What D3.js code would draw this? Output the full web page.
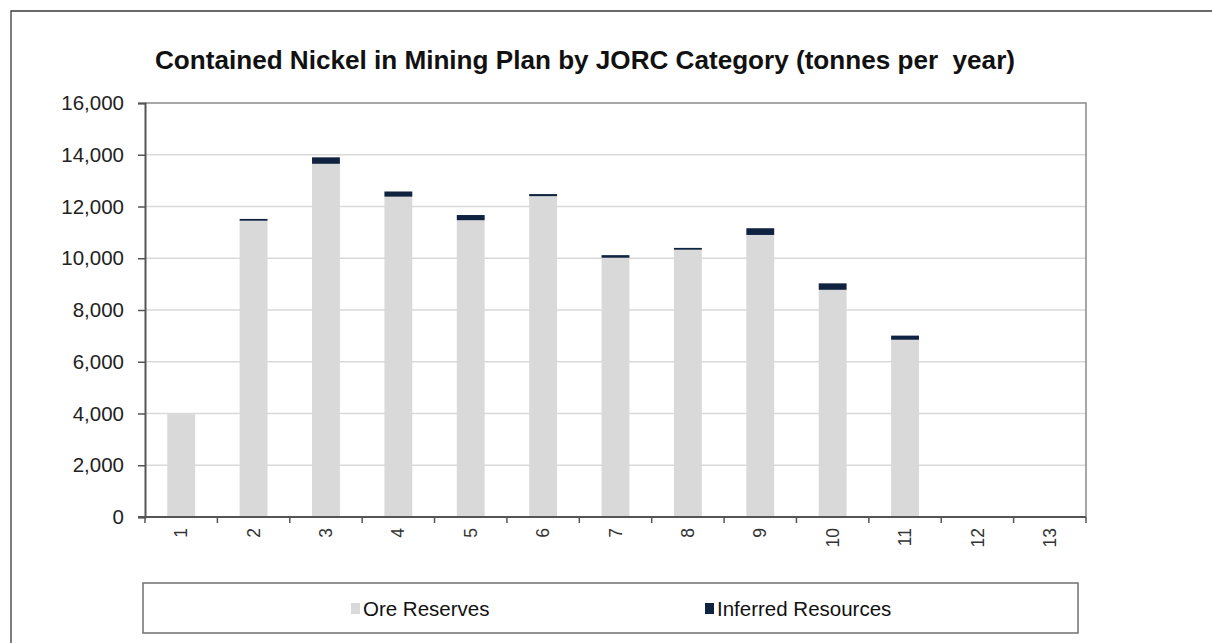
<!DOCTYPE html>
<html>
<head>
<meta charset="utf-8">
<script src="https://cdn.jsdelivr.net/npm/d3@7"></script>
<style>
  html, body { margin: 0; padding: 0; background: #fff; }
  svg { display: block; font-family: "Liberation Sans", Arial, sans-serif; }
</style>
</head>
<body>
<svg id="chart" width="1212" height="643"></svg>
<script>
// Mining plan years and contained nickel (tonnes) per JORC category
const years = ["1", "2", "3", "4", "5", "6", "7", "8", "9", "10", "11", "12", "13"];
const oreReserves = [4000, 11450, 13650, 12380, 11470, 12400, 10020, 10330, 10900, 8780, 6850, 0, 0];
const inferredResources = [0, 70, 250, 200, 200, 80, 100, 70, 260, 250, 160, 0, 0];
const yTicks = [0, 2000, 4000, 6000, 8000, 10000, 12000, 14000, 16000];
const seriesNames = ["Ore Reserves", "Inferred Resources"];
const seriesColors = ["#d9d9d9", "#0f2341"];

const svg = d3.select("#chart");

// outer frame (left and top edges)
svg.append("path")
  .attr("d", "M11,660 V11 H1212")
  .attr("fill", "none")
  .attr("stroke", "#3a3a3a")
  .attr("stroke-width", 1.3);

// title
svg.append("text")
  .attr("x", 585).attr("y", 69)
  .attr("text-anchor", "middle")
  .attr("font-size", 26)
  .attr("font-weight", "bold")
  .attr("fill", "#111")
  .style("white-space", "pre")
  .attr("textLength", 860)
  .attr("lengthAdjust", "spacingAndGlyphs")
  .text("Contained Nickel in Mining Plan by JORC Category (tonnes per  year)");

const plot = { left: 145, right: 1086, top: 103, bottom: 517 };

const x = d3.scaleBand()
  .domain(years)
  .range([plot.left, plot.right])
  .paddingInner(0.615)
  .paddingOuter(0.3075);

const y = d3.scaleLinear()
  .domain([0, 16000])
  .range([plot.bottom, plot.top]);

// horizontal gridlines
svg.append("g")
  .selectAll("line")
  .data(yTicks.filter(d => d > 0 && d < 16000))
  .join("line")
  .attr("x1", plot.left).attr("x2", plot.right)
  .attr("y1", d => y(d)).attr("y2", d => y(d))
  .attr("stroke", "#d9d9d9")
  .attr("stroke-width", 1.5);

// plot area border (top and right)
svg.append("path")
  .attr("d", `M${plot.left},${plot.top} H${plot.right} V${plot.bottom}`)
  .attr("fill", "none")
  .attr("stroke", "#8a8a8a")
  .attr("stroke-width", 1.5);

// stacked bars
const stackData = years.map((yr, i) => ({ year: yr, ore: oreReserves[i], inferred: inferredResources[i] }));
const stacked = d3.stack().keys(["ore", "inferred"])(stackData);

svg.append("g")
  .selectAll("g")
  .data(stacked)
  .join("g")
  .attr("fill", (d, i) => seriesColors[i])
  .selectAll("rect")
  .data(d => d)
  .join("rect")
  .attr("x", d => x(d.data.year))
  .attr("width", x.bandwidth())
  .attr("y", d => y(d[1]))
  .attr("height", d => Math.max(0, y(d[0]) - y(d[1])));

// y axis
const yAxis = svg.append("g")
  .attr("transform", `translate(${plot.left},0)`)
  .call(d3.axisLeft(y).tickValues(yTicks).tickFormat(d3.format(",")).tickSize(7).tickPadding(14));
yAxis.select(".domain").attr("stroke", "#555").attr("stroke-width", 2);
yAxis.selectAll(".tick line").attr("stroke", "#555").attr("stroke-width", 1.5);
yAxis.selectAll(".tick text")
  .attr("font-size", 20.5)
  .attr("fill", "#222")
  .attr("font-family", "Liberation Sans, Arial, sans-serif");

// x axis baseline
const xg = svg.append("g");
xg.append("line")
  .attr("x1", plot.left - 7).attr("x2", plot.right)
  .attr("y1", plot.bottom).attr("y2", plot.bottom)
  .attr("stroke", "#555").attr("stroke-width", 2);

// x ticks between categories
const step = x.step();
const boundaries = years.map(yr => x(yr) - step * x.paddingInner() / 2).concat([plot.right]);
xg.selectAll(".xt")
  .data(boundaries)
  .join("line")
  .attr("class", "xt")
  .attr("x1", d => d).attr("x2", d => d)
  .attr("y1", plot.bottom).attr("y2", plot.bottom + 6)
  .attr("stroke", "#555").attr("stroke-width", 1.5);

// rotated category labels
xg.selectAll(".xl")
  .data(years)
  .join("text")
  .attr("class", "xl")
  .attr("transform", d => `translate(${x(d) + x.bandwidth() / 2},${plot.bottom + 11}) rotate(-90)`)
  .attr("text-anchor", "end")
  .attr("dy", "0.35em")
  .attr("font-size", 17.5)
  .attr("fill", "#333")
  .text(d => d);

// legend
const legend = svg.append("g");
legend.append("rect")
  .attr("x", 143).attr("y", 583)
  .attr("width", 935).attr("height", 50)
  .attr("fill", "#fff")
  .attr("stroke", "#6f6f6f")
  .attr("stroke-width", 1.5);

const legendX = [351, 705];
seriesNames.forEach((name, i) => {
  legend.append("rect")
    .attr("x", legendX[i]).attr("y", 603)
    .attr("width", 9).attr("height", 11)
    .attr("fill", seriesColors[i]);
  legend.append("text")
    .attr("x", legendX[i] + 12).attr("y", 616)
    .attr("font-size", 20.5)
    .attr("fill", "#111")
    .text(name);
});
</script>
</body>
</html>
